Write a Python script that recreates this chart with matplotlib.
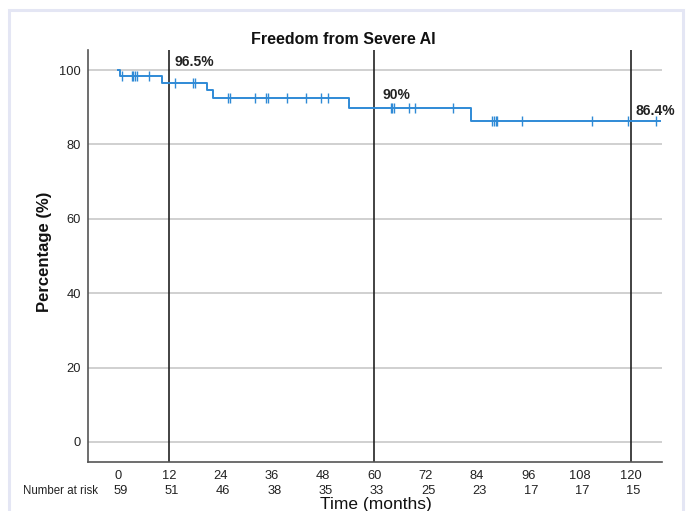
import numpy as np
import matplotlib
matplotlib.use("Agg")
import matplotlib.pyplot as plt
from matplotlib.patches import Rectangle

plt.rcParams['font.family'] = ['Liberation Sans', 'DejaVu Sans']

# step function of the survival curve
step_times = [0, 0.6, 10.3, 20.8, 22.2, 54.0, 82.5]
step_surv = [100, 98.3, 96.5, 94.6, 92.4, 89.8, 86.2]
end_time = 126.8

# censored observations
censor_times = [0.9, 3.2, 3.6, 4.0, 4.4, 7.2,
                13.3, 17.5, 18.0,
                25.8, 26.2, 32.0, 34.6, 35.1, 39.6, 44.0, 47.6, 49.2,
                63.8, 64.1, 64.6, 68.1, 69.6, 78.4,
                87.6, 88.0, 88.4, 88.7, 94.5, 111.0, 119.4, 125.9]

# landmark lines and labels
landmarks = [12, 60, 120]
landmark_labels = ["96.5%", "90%", "86.4%"]
label_pos = [(13.3, 102.2), (61.8, 93.4), (121.0, 88.9)]

x_ticks = [0, 12, 24, 36, 48, 60, 72, 84, 96, 108, 120]
at_risk = [59, 51, 46, 38, 35, 33, 25, 23, 17, 17, 15]
y_ticks = [0, 20, 40, 60, 80, 100]

blue = '#2f8ad6'

fig = plt.figure(figsize=(6.9, 5.11), dpi=100)
ax = fig.add_axes([88 / 690, 1 - 462 / 511, (662 - 88) / 690, (462 - 50) / 511])

# outer light frame
fig.patches.append(Rectangle((9 / 690, -0.05), (683 - 9) / 690, 1.05 - 10 / 511,
                             transform=fig.transFigure, fill=False,
                             edgecolor='#e4e6f4', linewidth=2.2))

for y in y_ticks:
    ax.axhline(y, color='#c4c4c4', linewidth=1.1, zorder=1)

xs = list(step_times) + [end_time]
ys = list(step_surv) + [step_surv[-1]]
ax.step(xs, ys, where='post', color=blue, linewidth=1.4, zorder=3)

idx = np.searchsorted(step_times, censor_times, side='right') - 1
cens_y = [step_surv[i] for i in idx]
ax.plot(censor_times, cens_y, linestyle='none', marker='|', markersize=7,
        markeredgewidth=1.0, color=blue, zorder=3)

for t in landmarks:
    ax.axvline(t, color='#222222', linewidth=1.2, zorder=2)

for lab, (tx, ty) in zip(landmark_labels, label_pos):
    ax.text(tx, ty, lab, fontsize=10, fontweight='bold',
            ha='left', va='center', color='#222222', zorder=4)

ax.set_xlim(-7.0, 127.3)
ax.set_ylim(-5.4, 105.4)
ax.set_xticks(x_ticks)
ax.set_yticks(y_ticks)
ax.tick_params(length=0, labelsize=9.3, colors='#222222')
ax.tick_params(axis='x', pad=6)
ax.tick_params(axis='y', pad=5)

for side in ['top', 'right']:
    ax.spines[side].set_visible(False)
for side in ['left', 'bottom']:
    ax.spines[side].set_color('#555555')
    ax.spines[side].set_linewidth(1.2)

# number at risk row
for t, n in zip(x_ticks, at_risk):
    ax.text(t + 0.6, -0.0705, str(n), transform=ax.get_xaxis_transform(),
            ha='center', va='center', fontsize=9.3, color='#222222')
fig.text(23 / 690, 1 - 491 / 511, "Number at risk", ha='left', va='center',
         fontsize=8.3, color='#222222')

fig.text(376 / 690, 1 - 504 / 511, "Time (months)", ha='center', va='center',
         fontsize=12.5, color='#111111')
fig.text(45 / 690, 1 - 252 / 511, "Percentage (%)", ha='center', va='center',
         rotation=90, fontsize=12, fontweight='bold', color='#111111')
fig.text(343 / 690, 1 - 40 / 511, "Freedom from Severe AI", ha='center', va='center',
         fontsize=11.5, fontweight='bold', color='#111111')

fig.savefig('out.png', dpi=100)
